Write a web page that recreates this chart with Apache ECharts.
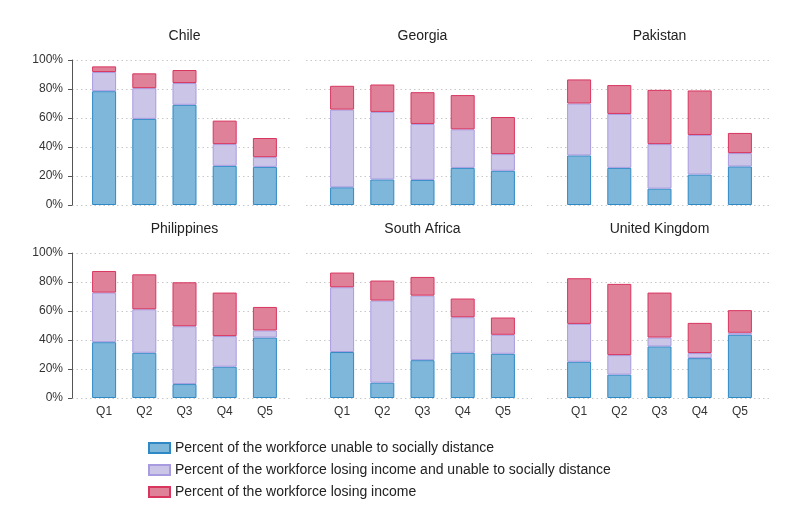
<!DOCTYPE html>
<html>
<head>
<meta charset="utf-8">
<script src="https://cdn.jsdelivr.net/npm/echarts@6/dist/echarts.min.js"></script>
<style>
  html, body { margin: 0; padding: 0; background: #fff; }
</style>
</head>
<body>
<div id="chart" style="width: 798px; height: 532px;"></div>
<script>
// quintiles and countries
const quintiles = ['Q1', 'Q2', 'Q3', 'Q4', 'Q5']
const countries = ['Chile', 'Georgia', 'Pakistan', 'Philippines', 'South Africa', 'United Kingdom']
const legendNames = [
  'Percent of the workforce unable to socially distance',
  'Percent of the workforce losing income and unable to socially distance',
  'Percent of the workforce losing income'
]

// segment heights (%), one row per country, same order as countries
const unableOnly = [
  [78.5, 59.4, 69.1, 27.0, 26.3],
  [12.2, 17.6, 17.3, 25.6, 23.6],
  [34.2, 25.6, 11.3, 21.0, 26.6],
  [38.5, 31.2, 9.6, 21.6, 41.7],
  [31.7, 10.6, 26.1, 31.2, 30.5],
  [25.0, 16.1, 35.6, 27.5, 43.6]
]
const losingAndUnable = [
  [13.2, 21.2, 15.0, 15.0, 6.7],
  [53.6, 46.6, 38.6, 26.6, 11.5],
  [35.8, 37.2, 30.7, 27.3, 9.2],
  [34.2, 30.0, 39.9, 21.1, 4.9],
  [44.7, 56.6, 44.5, 24.5, 13.1],
  [26.1, 13.5, 6.1, 3.5, 1.4]
]
const losingOnly = [
  [3.9, 10.2, 9.0, 16.2, 13.2],
  [16.4, 18.9, 21.9, 23.6, 25.6],
  [16.6, 19.9, 37.4, 30.7, 13.9],
  [14.9, 24.1, 30.3, 30.0, 16.2],
  [10.1, 13.8, 12.9, 12.9, 11.9],
  [31.5, 49.1, 31.0, 20.8, 15.6]
]

const fills = ['#7fb7da', '#cbc5e8', '#e0819a']
const borders = ['#2f89c5', '#a99be0', '#d8365f']
const seriesData = [unableOnly, losingAndUnable, losingOnly]

const chart = echarts.init(document.getElementById('chart'))

// frame grid = gridlines + y axis, bar grid = the five bars (narrower, padded inside the frame)
const frameLeft = [72, 306, 547]
const frameWidth = [220, 226, 224]
const barLeft = [84, 322, 559]
const barWidthPx = 201
const rowTop = [60, 253]
const panelH = 145
const font = 'Liberation Sans'

const grids = []
const xAxes = []
const yAxes = []
const titles = []
const series = []

// frames first (index 0..5)
countries.forEach((name, p) => {
  const col = p % 3
  const row = Math.floor(p / 3)
  grids.push({ left: frameLeft[col], top: rowTop[row], width: frameWidth[col], height: panelH })
  xAxes.push({ type: 'value', gridIndex: p, min: 0, max: 1, show: false })
  yAxes.push({
    type: 'value',
    gridIndex: p,
    min: 0,
    max: 100,
    interval: 20,
    axisLine: { show: col === 0, onZero: false, lineStyle: { color: '#555' } },
    axisTick: { show: col === 0, length: 4, lineStyle: { color: '#555' } },
    axisLabel: {
      show: col === 0,
      formatter: '{value}%',
      fontFamily: font,
      fontSize: 12,
      color: '#333',
      margin: 9
    },
    splitLine: { show: true, lineStyle: { color: '#c8c8c8', type: [1.5, 3] } }
  })
  titles.push({
    text: name,
    left: barLeft[col] + barWidthPx / 2 - 5,
    top: rowTop[row] - 36,
    textAlign: 'center',
    textStyle: { fontFamily: font, fontSize: 14, fontWeight: 'normal', color: '#222' }
  })
})

// bar grids (index 6..11)
countries.forEach((name, p) => {
  const col = p % 3
  const row = Math.floor(p / 3)
  const g = p + 6
  grids.push({ left: barLeft[col], top: rowTop[row], width: barWidthPx, height: panelH })
  xAxes.push({
    type: 'category',
    gridIndex: g,
    data: quintiles,
    axisLine: { show: false },
    axisTick: { show: false },
    axisLabel: { show: row === 1, fontFamily: font, fontSize: 12, color: '#333', margin: 8 }
  })
  yAxes.push({ type: 'value', gridIndex: g, min: 0, max: 100, show: false, splitLine: { show: false } })
  seriesData.forEach((rows, s) => {
    series.push({
      name: legendNames[s],
      type: 'bar',
      xAxisIndex: g,
      yAxisIndex: g,
      stack: 'panel' + p,
      barWidth: 24,
      itemStyle: { color: fills[s], borderColor: borders[s], borderWidth: 1 },
      emphasis: { disabled: true },
      data: rows[p]
    })
  })
})

const option = {
  animation: false,
  title: titles,
  grid: grids,
  xAxis: xAxes,
  yAxis: yAxes,
  legend: {
    data: legendNames,
    orient: 'vertical',
    left: 143,
    top: 436,
    icon: 'rect',
    itemWidth: 21,
    itemHeight: 10,
    itemGap: 8,
    textStyle: { fontFamily: font, fontSize: 14, color: '#222' }
  },
  series: series
}

chart.setOption(option)
</script>
</body>
</html>
